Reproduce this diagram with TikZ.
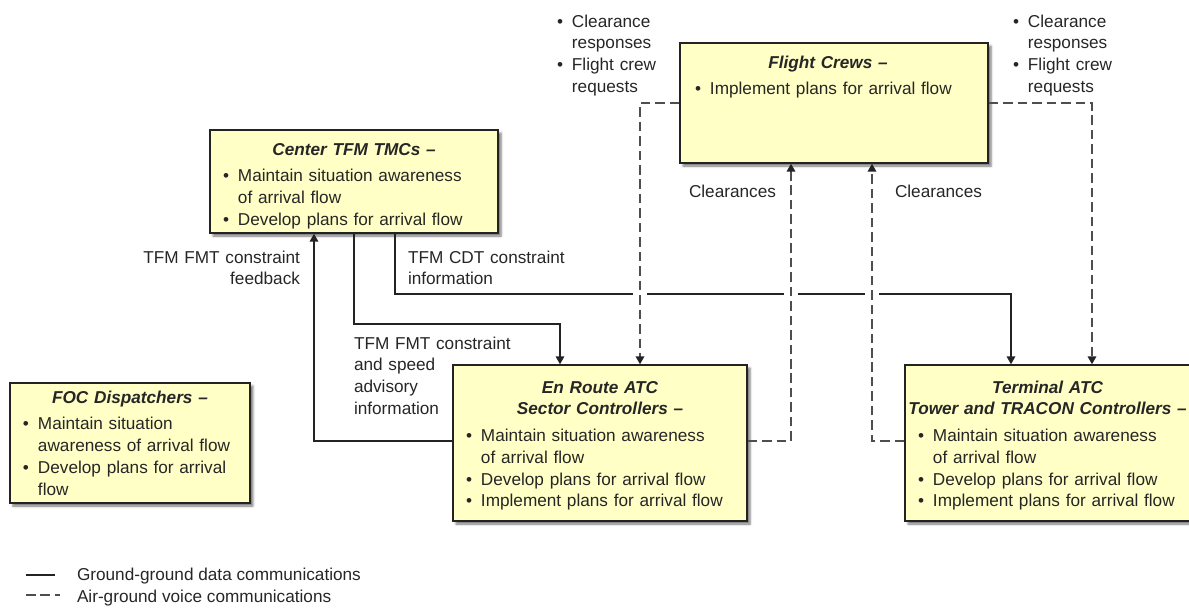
\documentclass[tikz,border=0pt]{standalone}
\usepackage{fontspec}
\setmainfont{Liberation Sans}
\usetikzlibrary{arrows.meta,fit,shadows.blur}

\definecolor{boxfill}{RGB}{255,255,198}
\definecolor{ink}{RGB}{38,38,38}
\definecolor{edge}{RGB}{35,35,35}
\definecolor{voice}{RGB}{78,78,78}

% bullet item with hanging indent (lines inside are split with \newline)
\newcommand\itm[1]{\makebox[8.5pt][l]{\textbullet}\hangindent=8.5pt\hangafter=1 #1\par}
% centred bold italic heading line over a given width
\newcommand\ttl[2]{\makebox[#1][c]{\bfseries\itshape #2}\par}

\tikzset{
  box/.style={draw=edge, line width=0.85pt, fill=boxfill, inner sep=0pt,
    blur shadow={shadow xshift=1.7pt, shadow yshift=-1.7pt,
                 shadow blur radius=1.3pt, shadow opacity=55}},
  boxtext/.style={inner sep=0pt, outer sep=0pt, anchor=base west, align=left,
    text width=400pt, text=ink, font=\fontsize{9.75}{12.35}\selectfont},
  lbl/.style={inner sep=0pt, outer sep=0pt, text=ink,
    font=\fontsize{9.75}{12.35}\selectfont},
  tip/.style={-{Triangle[length=4.4pt,width=4.8pt,color=edge]}},
  data/.style={draw=edge, line width=0.75pt},
  voiceline/.style={draw=voice, line width=0.9pt, dash pattern=on 5.4pt off 2.8pt},
  gap/.style={fill=white, draw=none, minimum width=8pt, minimum height=3pt, inner sep=0pt},
}

\begin{document}
\begin{tikzpicture}[x=0.567pt, y=-0.567pt]
\useasboundingbox (0,0) rectangle (1189,610);

% ---- boxes ----
\node[box, fit={(210,130) (498,233)}] (ctr) {};
\node[box, fit={(10,383) (250,503)}] (foc) {};
\node[box, fit={(453,365) (747,521)}] (enr) {};
\node[box, fit={(905,365) (1196,521)}] (trm) {};
\node[box, fit={(680,43) (988,163)}] (fc) {};

% ---- box contents ----
\node[boxtext] (ctrtxt) at (223,155) {%
  \ttl{148.6pt}{Center TFM TMCs –}\vspace{2.8pt}%
  \itm{Maintain situation awareness\newline of arrival flow}%
  \itm{Develop plans for arrival flow}};

\node[boxtext] (foctxt) at (23,403) {%
  \ttl{121.3pt}{FOC Dispatchers –}\vspace{2.8pt}%
  \itm{Maintain situation\newline awareness of arrival flow}%
  \itm{Develop plans for arrival\newline flow}};

\node[boxtext] (enrtxt) at (466,393) {%
  \ttl{152pt}{En Route ATC}\ttl{152pt}{Sector Controllers –}\vspace{2.8pt}%
  \itm{Maintain situation awareness\newline of arrival flow}%
  \itm{Develop plans for arrival flow}%
  \itm{Implement plans for arrival flow}};

\node[boxtext] (trmtxt) at (918,393) {%
  \ttl{146.9pt}{Terminal ATC}\ttl{146.9pt}{Tower and TRACON Controllers –}\vspace{2.8pt}%
  \itm{Maintain situation awareness\newline of arrival flow}%
  \itm{Develop plans for arrival flow}%
  \itm{Implement plans for arrival flow}};

\node[boxtext] (fctxt) at (695,68) {%
  \ttl{150.8pt}{Flight Crews –}\vspace{2.8pt}%
  \itm{Implement plans for arrival flow}};

% ---- free labels ----
\node[boxtext] (req1) at (557,27) {%
  \itm{Clearance\newline responses}\itm{Flight crew\newline requests}};
\node[boxtext] (req2) at (1013,27) {%
  \itm{Clearance\newline responses}\itm{Flight crew\newline requests}};
\node[lbl, anchor=base west] (clr1) at (689,197) {Clearances};
\node[lbl, anchor=base west] (clr2) at (895,197) {Clearances};
\node[lbl, text width=170*0.567pt, align=right, anchor=base east] (fbk) at (300,263)
  {TFM FMT constraint\\feedback};
\node[lbl, text width=170*0.567pt, align=left, anchor=base west] (cdt) at (408,263)
  {TFM CDT constraint\\information};
\node[lbl, text width=170*0.567pt, align=left, anchor=base west] (spd) at (354,349)
  {TFM FMT constraint\\and speed\\advisory\\information};

% ---- ground-ground data links ----
\draw[data, tip] (enr.west |- 0,441) -| (ctr.south -| 314,0);
\draw[data, tip] (ctr.south -| 354,0) -- (354,324) -| (enr.north -| 560,0);
\draw[data, tip] (ctr.south -| 395,0) -- (395,294) -| (trm.north -| 1011,0);

% breaks in the data line where voice links cross it
\node[gap] (g1) at (640,294) {};
\node[gap] (g2) at (791,294) {};
\node[gap] (g3) at (872,294) {};

% ---- air-ground voice links ----
\draw[voiceline, tip] (fc.west |- 0,103) -| (enr.north -| 640,0);
\draw[voiceline, tip] (enr.east |- 0,441) -| (fc.south -| 791,0);
\draw[voiceline, tip] (trm.west |- 0,441) -| (fc.south -| 872,0);
\draw[voiceline, tip] (fc.east |- 0,103) -| (trm.north -| 1092,0);

% ---- legend ----
\coordinate (lg1a) at (26,575);
\coordinate (lg1b) at (55,575);
\coordinate (lg2a) at (26,595);
\coordinate (lg2b) at (60,595);
\draw[data] (lg1a) -- (lg1b);
\draw[voiceline] (lg2a) -- (lg2b);
\node[lbl, anchor=base west] (lgt1) at (77,580) {Ground-ground data communications};
\node[lbl, anchor=base west] (lgt2) at (77,602) {Air-ground voice communications};
\end{tikzpicture}
\end{document}
